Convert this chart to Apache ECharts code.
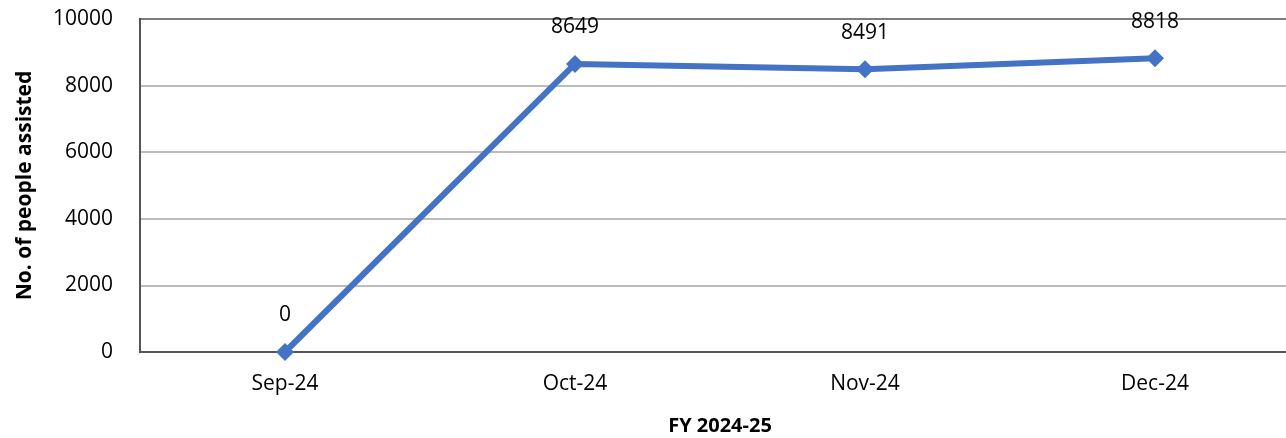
<!DOCTYPE html>
<html>
<head>
<meta charset="utf-8">
<script src="https://cdn.jsdelivr.net/npm/echarts@6/dist/echarts.min.js"></script>
<style>
  html, body { margin: 0; padding: 0; background: #fff; }
  #chart { width: 1286px; height: 438px; }
</style>
</head>
<body>
<div id="chart"></div>
<script>
var months = ['Sep-24', 'Oct-24', 'Nov-24', 'Dec-24'];
var assisted = [0, 8649, 8491, 8818];
var yTicks = [0, 2000, 4000, 6000, 8000, 10000];

var font = 'Open Sans';
var option = {
    animation: false,
    grid: {
        left: 140,
        top: 19,
        width: 1160,
        height: 333,
        outerBoundsMode: 'none',
        containLabel: false,
        show: true,
        borderColor: '#000',
        borderWidth: 2
    },
    xAxis: {
        type: 'category',
        data: months,
        boundaryGap: true,
        axisLine: { show: true, lineStyle: { color: '#555', width: 2 } },
        axisTick: { show: false },
        axisLabel: { color: '#000', fontFamily: font, fontSize: 21, margin: 22 },
        name: 'FY 2024-25',
        nameLocation: 'middle',
        nameGap: 64,
        nameTextStyle: { color: '#000', fontFamily: font, fontSize: 20, fontWeight: 'bold' }
    },
    yAxis: {
        type: 'value',
        min: yTicks[0],
        max: yTicks[yTicks.length - 1],
        interval: 2000,
        axisLine: { show: true, lineStyle: { color: '#555', width: 2 } },
        axisTick: { show: false },
        splitLine: { show: true, lineStyle: { color: '#a6a6a6', width: 1.5 } },
        axisLabel: {
            color: '#000', fontFamily: font, fontSize: 21, margin: 27,
            formatter: function (v) { return String(v); }
        },
        name: 'No. of people assisted',
        nameLocation: 'middle',
        nameGap: 104,
        nameTextStyle: { color: '#000', fontFamily: font, fontSize: 21, fontWeight: 'bold' }
    },
    series: [{
        type: 'line',
        data: assisted,
        symbol: 'diamond',
        symbolSize: 18,
        lineStyle: { color: '#4472C4', width: 6 },
        itemStyle: { color: '#4472C4' },
        label: {
            show: true,
            position: 'top',
            distance: 17,
            color: '#000',
            fontFamily: font,
            fontSize: 21
        }
    }]
};
var myChart = echarts.init(document.getElementById('chart'));
myChart.setOption(option);
</script>
</body>
</html>
